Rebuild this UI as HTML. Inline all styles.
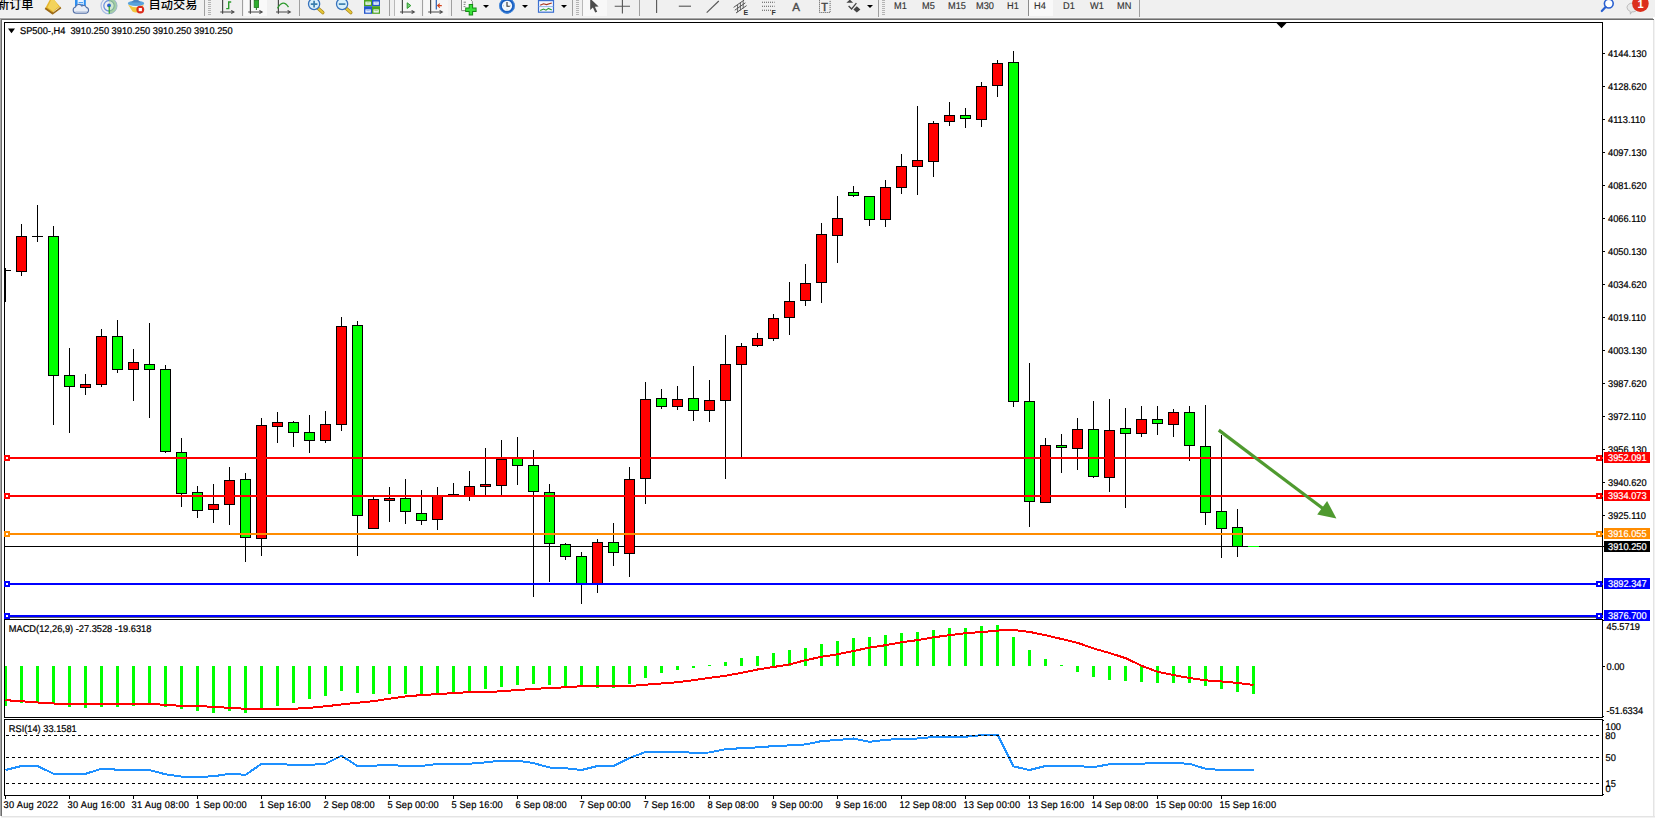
<!DOCTYPE html>
<html lang="zh"><head><meta charset="utf-8"><title>SP500-,H4</title>
<style>
html,body{margin:0;padding:0;background:#fff}
body{width:1655px;height:818px;position:relative;overflow:hidden;font-family:"Liberation Sans", "Noto Sans CJK SC", sans-serif}
#tb{position:absolute;left:0;top:0;width:1655px;height:17px;background:#f0f0f0;overflow:hidden}
.ln{position:absolute;left:0;width:1653px;height:1px}
.t{position:absolute;white-space:nowrap;color:#333;font-size:9.8px;line-height:10px;top:2.4px;transform:scaleX(.94);transform-origin:0 0;text-rendering:geometricPrecision;-webkit-text-stroke:.15px #333}
.cj{position:absolute;white-space:nowrap;color:#000;font-size:12.2px;line-height:12px;top:-1.3px;font-weight:500}
.sep{position:absolute;top:0;width:1px;height:16px;background:#a0a0a0}
.grip{position:absolute;top:0;width:3px;height:15px;background:repeating-linear-gradient(#b4b4b4 0 1px,#f0f0f0 1px 2px)}
.dd{position:absolute;top:5px;width:0;height:0;border-left:3px solid transparent;border-right:3px solid transparent;border-top:3px solid #000}
</style></head><body>
<div id="tb">
<div class="cj" style="left:-3px">新订单</div>
<div class="cj" style="left:148.6px">自动交易</div>
<div style="position:absolute;left:244px;top:0;width:23px;height:16px;background:#f9f9f9"></div>
<div style="position:absolute;left:395px;top:0;width:25px;height:16px;background:#f6f6f6"></div>
<div style="position:absolute;left:424px;top:0;width:24px;height:16px;background:#f6f6f6"></div>
<div style="position:absolute;left:583px;top:0;width:24px;height:16px;background:#f8f8f8"></div>
<div style="position:absolute;left:1029px;top:0;width:24px;height:16px;background:#f9f9f9"></div>
<div class="sep" style="left:204px"></div><div class="grip" style="left:208px"></div>
<div class="sep" style="left:242px"></div>
<div class="sep" style="left:299px"></div>
<div class="sep" style="left:389px"></div><div class="sep" style="left:394px;background:#b8b8b8"></div>
<div class="sep" style="left:422px"></div>
<div class="sep" style="left:451px"></div>
<div class="sep" style="left:572px"></div><div class="grip" style="left:576px"></div>
<div class="sep" style="left:582px;background:#b8b8b8"></div>
<div class="sep" style="left:639px"></div>
<div class="sep" style="left:878px;height:17px"></div><div class="grip" style="left:882px"></div>
<div class="sep" style="left:1028px;background:#8c8c8c"></div>
<div class="sep" style="left:1139px;height:17px"></div>
<div class="dd" style="left:483px"></div><div class="dd" style="left:522px"></div><div class="dd" style="left:561px"></div><div class="dd" style="left:867px"></div>
<span class="t" style="left:894px">M1</span><span class="t" style="left:921.8px">M5</span><span class="t" style="left:947.8px">M15</span><span class="t" style="left:975.7px">M30</span><span class="t" style="left:1006.6px">H1</span><span class="t" style="left:1034px">H4</span><span class="t" style="left:1062.5px">D1</span><span class="t" style="left:1090.2px">W1</span><span class="t" style="left:1116.8px">MN</span>
<svg width="1655" height="17" viewBox="0 0 1655 17" style="position:absolute;left:0;top:0" font-family='"Liberation Sans", sans-serif'>
<!-- book -->
<path d="M50.2 -1L45.2 8.2L52.6 13.6L60.8 7.5L53.4 -1Z" fill="#e6b52c"/><path d="M51.5 -1L47.6 7.6L53 11.2L58.6 6.6L54 -1Z" fill="#f3d35c"/><path d="M45.2 8.2L52.6 13.6L60.8 7.5" fill="none" stroke="#9c6a17" stroke-width="1.9" stroke-linejoin="round"/><path d="M53.2 12L59.6 7.2" stroke="#f5ecd0" stroke-width=".8"/>
<!-- doc + cloud -->
<rect x="75" y="-2" width="10.8" height="9.4" fill="#2c8ef0"/><path d="M77.6 -1H83.8V6H77.6Z" fill="#e9f3ff"/><path d="M78.6 2.6H83M78.6 4.4H83" stroke="#2c8ef0" stroke-width=".9"/>
<path d="M76.2 13.1a3.1 3.1 0 0 1 -0.7 -6.1a3.4 3.4 0 0 1 6.2 -1a3 3 0 0 1 4.6 1.4a2.9 2.9 0 0 1 -0.2 5.7Z" fill="#e9eef7" stroke="#5672a8" stroke-width="1.1"/><path d="M75.4 11.8H87" stroke="#c3cfe4" stroke-width="1.4"/>
<!-- signal -->
<path d="M109 5.8L109 -2.2A8 8 0 0 1 109 13.8Z" fill="#8cc48c" opacity=".75"/><path d="M109 5.8L109 0.6A5.2 5.2 0 0 1 109 11Z" fill="#d9ecd9" opacity=".8"/>
<g fill="none"><path d="M109 -2.2A8 8 0 0 0 109 13.8" stroke="#a9bde6" stroke-width="1.2"/><path d="M109 0.6A5.2 5.2 0 0 0 109 11" stroke="#6d92dc" stroke-width="1.3"/><path d="M109 -2.2A8 8 0 0 1 109 13.8" stroke="#9ab6c8" stroke-width="1"/><path d="M109 0.6A5.2 5.2 0 0 1 109 11" stroke="#7fae9a" stroke-width="1.1"/></g>
<circle cx="109" cy="5.4" r="1.9" fill="#2a5fd0"/><path d="M109.2 6V13.8" stroke="#22a022" stroke-width="1.1"/>
<!-- hat + stop -->
<path d="M128 4.5Q136 10 144 4.5L139.5 11.5Q136 13.5 132.5 11.5Z" fill="#f0c63c"/><ellipse cx="136" cy="3.4" rx="8.2" ry="2.6" fill="#5aa3dc"/><path d="M131.2 2.4Q136 -3.5 140.8 2.4Z" fill="#4a86c4"/>
<circle cx="140.3" cy="9.6" r="3.9" fill="#dc2a1a"/><rect x="138.7" y="8" width="3.2" height="3.2" fill="#fff"/>
<!-- bar chart icon -->
<g stroke="#4a4a4a" stroke-width="1.2" fill="none"><path d="M222.6 0V13.8M220.3 12H233.6"/><path d="M231.2 10.5L233.8 12L231.2 13.5"/></g>
<path d="M226.2 8.6H228.7V2H231.2" stroke="#2c9a2c" stroke-width="1.4" fill="none"/>
<!-- candle icon -->
<g stroke="#4a4a4a" stroke-width="1.2" fill="none"><path d="M250.4 0V13.8M248.2 12H261.8"/><path d="M259.4 10.5L262 12L259.4 13.5"/></g>
<rect x="254.2" y="0.5" width="4.4" height="7" fill="#2fae2f" stroke="#1f7a1f" stroke-width=".8"/><path d="M256.4 7.5V10" stroke="#1f7a1f" stroke-width="1"/>
<!-- line chart icon -->
<g stroke="#4a4a4a" stroke-width="1.2" fill="none"><path d="M278.4 0V13.8M276 12H290"/><path d="M287.6 10.5L290.2 12L287.6 13.5"/></g>
<path d="M277.5 8.4Q283 -1.5 288.5 7.2" stroke="#2c9a2c" stroke-width="1.3" fill="none"/>
<!-- zoom in -->
<path d="M318 8.2L322.8 12.6" stroke="#a8851c" stroke-width="3.4" stroke-linecap="round"/><path d="M318 8.2L322.8 12.6" stroke="#e6c838" stroke-width="2" stroke-linecap="round"/><circle cx="314.1" cy="4" r="5.6" fill="#d9f0fb" stroke="#3672bc" stroke-width="1.3"/><path d="M310.8 4.1H317.4M314.1 0.8V7.4" stroke="#3b7fae" stroke-width="1.7"/>
<!-- zoom out -->
<path d="M346 8.2L350.8 12.6" stroke="#a8851c" stroke-width="3.4" stroke-linecap="round"/><path d="M346 8.2L350.8 12.6" stroke="#e6c838" stroke-width="2" stroke-linecap="round"/><circle cx="342.1" cy="4" r="5.6" fill="#d9f0fb" stroke="#3672bc" stroke-width="1.3"/><path d="M338.8 4.1H345.4" stroke="#3b7fae" stroke-width="1.7"/>
<!-- grid -->
<rect x="364" y="-1" width="8" height="7.2" fill="#4aa31e"/><rect x="372" y="-1" width="8" height="7.2" fill="#2456cc"/><rect x="364" y="6.2" width="8" height="7.6" fill="#2456cc"/><rect x="372" y="6.2" width="8" height="7.6" fill="#4aa31e"/>
<g fill="#f2f7ff"><rect x="365.4" y="1.6" width="5.4" height="3.2"/><rect x="373.4" y="1.6" width="5.4" height="3.2"/><rect x="365.4" y="9.4" width="5.4" height="3.2"/><rect x="373.4" y="9.4" width="5.4" height="3.2"/></g>
<path d="M366.4 2.9H369.8" stroke="#9ad07a" stroke-width="1"/><path d="M374.4 2.9H377.8" stroke="#8fb0ee" stroke-width="1"/><path d="M366.4 10.7H369.8" stroke="#8fb0ee" stroke-width="1"/><path d="M374.4 10.7H377.8" stroke="#9ad07a" stroke-width="1"/>
<!-- autoscroll -->
<g stroke="#4a4a4a" stroke-width="1.2" fill="none"><path d="M402.4 0V13.8M400 12H414"/><path d="M411.6 10.5L414.2 12L411.6 13.5"/></g>
<path d="M407.2 2.8L410.8 5.6L407.2 8.4Z" fill="#7fd27f" stroke="#2c9a2c" stroke-width="1"/>
<!-- chart shift -->
<g stroke="#4a4a4a" stroke-width="1.2" fill="none"><path d="M430.6 0V13.8M428.2 12H442"/><path d="M439.6 10.5L442.2 12L439.6 13.5"/></g>
<path d="M436.3 0V9.6" stroke="#2a5fb4" stroke-width="1.2"/><path d="M441.8 5.6H438M439.8 3.6L437.6 5.6L439.8 7.6" stroke="#d2431c" stroke-width="1.1" fill="none"/>
<!-- new chart -->
<path d="M461.5 -1H470L472.4 1.4V10.6H461.5Z" fill="#f8f8f8" stroke="#8c8c8c" stroke-width="1"/><path d="M463.6 2.2H466M463.6 4.4H465.4M463.6 6.6H465.4" stroke="#666" stroke-width=".8"/><path d="M470.9 4V15.4M465.2 9.7H476.6" stroke="#168816" stroke-width="4.4"/><path d="M470.9 4.9V14.5M466.1 9.7H475.7" stroke="#3be03b" stroke-width="2.5"/>
<!-- clock -->
<circle cx="507" cy="5.8" r="6.5" fill="#f4f8fd" stroke="#1a5fc0" stroke-width="2.7"/><circle cx="507" cy="5.8" r="7.4" fill="none" stroke="#4f95e6" stroke-width=".8"/><path d="M507 2V6.2H509.8" stroke="#333" stroke-width="1.1" fill="none"/><path d="M507 9.6V10.4M503 5.8H503.8M510.4 5.8H511" stroke="#8aa" stroke-width=".8"/>
<!-- template -->
<rect x="538.5" y="-1" width="15" height="13.2" fill="#f4f8ff" stroke="#3a6fd0" stroke-width="1.2"/><rect x="538.5" y="-1" width="15" height="2.2" fill="#3a6fd0"/><path d="M538.5 6.6H553.5" stroke="#7ea4e4" stroke-width=".8"/><path d="M540.2 5.2L543.5 3.8L546.5 4.6L551.8 3" stroke="#a8341c" stroke-width="1.1" fill="none"/><path d="M540.2 10.6L543.5 9L546 10.2L548.5 8.4L551.8 10" stroke="#2c9a2c" stroke-width="1.1" fill="none"/>
<!-- cursor -->
<path d="M590.2 -1.5L590.2 10L592.9 7.6L595.2 12.6L597.2 11.7L594.9 6.8L598.6 6.6Z" fill="#4c4c4c"/>
<!-- crosshair -->
<path d="M614.7 6.2H630M622.4 -1V13.6" stroke="#555" stroke-width="1.1"/>
<!-- vline, hline, trend -->
<path d="M656.6 -1V13" stroke="#555" stroke-width="1.1"/><path d="M678.8 6.2H691" stroke="#555" stroke-width="1.1"/><path d="M706.7 12.7L718.8 1" stroke="#555" stroke-width="1.1"/>
<!-- channel -->
<path d="M733.6 7.4L744.2 0M734.8 10.2L745.4 2.8M736 13L746.6 5.6" stroke="#555" stroke-width="1"/><path d="M737.6 5L737.6 12.2M740.4 3L740.4 10.4M743.2 1.2L743.2 8.4" stroke="#555" stroke-width=".9"/>
<text x="743.4" y="15" font-size="7" font-weight="bold" fill="#333">E</text>
<!-- fib -->
<path d="M762 2.2H774.6M762 6.2H774.6M762 10.2H771" stroke="#555" stroke-width="1.1" stroke-dasharray="1 1"/>
<text x="771.4" y="15" font-size="7" font-weight="bold" fill="#333">F</text>
<!-- A -->
<text x="792.2" y="10.8" font-size="11.6" fill="#4c4c4c" stroke="#4c4c4c" stroke-width=".35">A</text>
<!-- T box -->
<rect x="819.5" y="-0.5" width="10.6" height="13" fill="none" stroke="#555" stroke-width="1" stroke-dasharray="1 1"/><text x="821.3" y="10.8" font-size="11" fill="#444" stroke="#444" stroke-width=".45">T</text>
<!-- arrows icon -->
<path d="M846.4 2.8L849.8 -0.4L853.2 2.8Z" fill="#444"/><path d="M848.6 6L851.6 9L856.4 3.2" stroke="#444" stroke-width="1.3" fill="none"/><path d="M853.4 9.4L856.8 6.2L860.4 9.4L856.8 12.6Z" fill="#444"/>
<!-- magnifier -->
<circle cx="1608.8" cy="3.6" r="4.4" fill="#fff" stroke="#2a60d0" stroke-width="1.6"/><path d="M1605.6 7L1601.8 11" stroke="#2a60d0" stroke-width="2.2" stroke-linecap="round"/>
<!-- bubble + badge -->
<path d="M1627 7.5a5.5 4.5 0 0 1 11 0a5.5 4.5 0 0 1 -6.4 4.4L1630.4 14.2L1630.2 11.4A5.5 4.5 0 0 1 1627 7.5Z" fill="#e9e9e9" stroke="#b5b5b5" stroke-width=".9"/>
<circle cx="1640.4" cy="3.6" r="8.3" fill="#dc2f1c"/><text x="1637.4" y="7.6" font-size="11" font-weight="bold" fill="#fff">1</text>
</svg>

</div>
<div class="ln" style="top:17px;background:#f4f4f4"></div>
<div class="ln" style="top:18px;background:#a6a6a6"></div>
<div class="ln" style="top:19px;left:1px;background:#6c6c6c"></div>
<div style="position:absolute;left:0;top:18px;width:1px;height:798px;background:#a6a6a6"></div>
<div style="position:absolute;left:1px;top:19px;width:1px;height:797px;background:#6c6c6c"></div>
<div style="position:absolute;left:1653px;top:20px;width:2px;height:798px;background:linear-gradient(90deg,#e4e4e4 0 1px,#f2f2f2 1px 2px)"></div>
<div style="position:absolute;left:1px;top:816px;width:1654px;height:2px;background:linear-gradient(#e4e4e4 0 1px,#f2f2f2 1px 2px)"></div>
<svg width="1655" height="818" viewBox="0 0 1655 818" style="position:absolute;left:0;top:0" font-family='"Liberation Sans", sans-serif' font-size="9.8" text-rendering="geometricPrecision">
<g shape-rendering="crispEdges">
<path d="M4 22.5H1603M4.5 22V618M1602.5 22V618M4.5 619V718M1602.5 619V718M4.5 719V796M1602.5 719V796M4 619.5H1603M4 717.5H1603M4 719.5H1603M4 795.5H1603M1603 716.5H1604M1603 720.5H1604M1603 620.5H1604M1603 794.5H1604" stroke="#000" stroke-width="1" fill="none"/>
<rect x="4" y="617" width="1599" height="1" fill="#000" opacity="0.62"/>
</g>
<path d="M1276.5 23H1286.5L1281.5 28.3Z" fill="#000"/>
<g shape-rendering="crispEdges">
<path d="M1603 53.5H1605M1603 86.5H1605M1603 119.5H1605M1603 152.5H1605M1603 185.5H1605M1603 218.5H1605M1603 251.5H1605M1603 284.5H1605M1603 317.5H1605M1603 350.5H1605M1603 383.5H1605M1603 416.5H1605M1603 449.5H1605M1603 482.5H1605M1603 515.5H1605M1603 666.5H1605" stroke="#000" stroke-width="1"/>
<path d="M5.5 796V799M69.5 796V799M133.5 796V799M197.5 796V799M261.5 796V799M325.5 796V799M389.5 796V799M453.5 796V799M517.5 796V799M581.5 796V799M645.5 796V799M709.5 796V799M773.5 796V799M837.5 796V799M901.5 796V799M965.5 796V799M1029.5 796V799M1093.5 796V799M1157.5 796V799M1221.5 796V799" stroke="#000" stroke-width="1"/>
</g>
<g shape-rendering="crispEdges">
<rect x="5" y="546" width="1597" height="1" fill="#000"/>
<path d="M21.5 224V276M37.5 205V242M53.5 226V425M69.5 348V433M85.5 374V395M101.5 329V387M117.5 320V373M133.5 349V401M149.5 323V418M165.5 365V453M181.5 438V507M197.5 486V518M213.5 484V523M229.5 467V525M245.5 473V562M261.5 418V556M277.5 412V443M293.5 421V447M309.5 415V453M325.5 411V443M341.5 317V431M357.5 321V556M373.5 496V528M389.5 487V522M405.5 479V524M421.5 490V525M437.5 487V530M453.5 483V496M469.5 471V501M485.5 448V495M501.5 440V495M517.5 437V485M533.5 450V597M549.5 484V582M565.5 543V560M581.5 552V604M597.5 539V593M613.5 523V566M629.5 467V577M645.5 382V504M661.5 389V409M677.5 386V410M693.5 366V421M709.5 380V422M725.5 335V479M741.5 343V457M757.5 333V347M773.5 314V341M789.5 282V335M805.5 264V306M821.5 223V303M837.5 196V263M853.5 186V197M869.5 196V226M885.5 180V227M901.5 154V194M917.5 106V195M933.5 121V177M949.5 102V126M965.5 108V128M981.5 82V127M997.5 60V97M1013.5 51V407M1029.5 363V527M1045.5 438V502M1061.5 434V473M1077.5 418V470M1093.5 401V478M1109.5 399V492M1125.5 408V508M1141.5 406V437M1157.5 406V435M1173.5 409V437M1189.5 406V461M1205.5 405V525M1221.5 435V558M1237.5 509V557M5.5 268V302" stroke="#000" stroke-width="1" fill="none"/>
<path d="M5 270.5H11" stroke="#000" stroke-width="1"/>
<g fill="#ff0000" stroke="#000" stroke-width="1"><rect x="16.5" y="236.5" width="10" height="35"/><rect x="80.5" y="384.5" width="10" height="3"/><rect x="96.5" y="336.5" width="10" height="48"/><rect x="128.5" y="362.5" width="10" height="7"/><rect x="208.5" y="504.5" width="10" height="5"/><rect x="224.5" y="480.5" width="10" height="24"/><rect x="256.5" y="425.5" width="10" height="113"/><rect x="272.5" y="422.5" width="10" height="4"/><rect x="320.5" y="424.5" width="10" height="16"/><rect x="336.5" y="326.5" width="10" height="98"/><rect x="368.5" y="499.5" width="10" height="29"/><rect x="384.5" y="498.5" width="10" height="2"/><rect x="432.5" y="496.5" width="10" height="23"/><rect x="464.5" y="486.5" width="10" height="9"/><rect x="480.5" y="484.5" width="10" height="2"/><rect x="496.5" y="459.5" width="10" height="26"/><rect x="592.5" y="542.5" width="10" height="41"/><rect x="624.5" y="479.5" width="10" height="74"/><rect x="640.5" y="399.5" width="10" height="79"/><rect x="672.5" y="399.5" width="10" height="7"/><rect x="704.5" y="400.5" width="10" height="10"/><rect x="720.5" y="364.5" width="10" height="36"/><rect x="736.5" y="346.5" width="10" height="18"/><rect x="752.5" y="338.5" width="10" height="7"/><rect x="768.5" y="318.5" width="10" height="20"/><rect x="784.5" y="301.5" width="10" height="16"/><rect x="800.5" y="283.5" width="10" height="17"/><rect x="816.5" y="234.5" width="10" height="48"/><rect x="832.5" y="218.5" width="10" height="17"/><rect x="880.5" y="187.5" width="10" height="32"/><rect x="896.5" y="166.5" width="10" height="21"/><rect x="912.5" y="160.5" width="10" height="6"/><rect x="928.5" y="123.5" width="10" height="38"/><rect x="944.5" y="115.5" width="10" height="6"/><rect x="976.5" y="86.5" width="10" height="33"/><rect x="992.5" y="63.5" width="10" height="22"/><rect x="1040.5" y="445.5" width="10" height="57"/><rect x="1072.5" y="429.5" width="10" height="19"/><rect x="1104.5" y="430.5" width="10" height="47"/><rect x="1136.5" y="419.5" width="10" height="14"/><rect x="1168.5" y="412.5" width="10" height="12"/></g>
<g fill="#00ff00" stroke="#000" stroke-width="1"><rect x="48.5" y="236.5" width="10" height="139"/><rect x="64.5" y="375.5" width="10" height="11"/><rect x="112.5" y="336.5" width="10" height="33"/><rect x="144.5" y="364.5" width="10" height="5"/><rect x="160.5" y="369.5" width="10" height="82"/><rect x="176.5" y="452.5" width="10" height="41"/><rect x="192.5" y="492.5" width="10" height="18"/><rect x="240.5" y="479.5" width="10" height="58"/><rect x="288.5" y="422.5" width="10" height="10"/><rect x="304.5" y="432.5" width="10" height="8"/><rect x="352.5" y="325.5" width="10" height="190"/><rect x="400.5" y="498.5" width="10" height="13"/><rect x="416.5" y="513.5" width="10" height="7"/><rect x="512.5" y="458.5" width="10" height="7"/><rect x="528.5" y="465.5" width="10" height="26"/><rect x="544.5" y="492.5" width="10" height="51"/><rect x="560.5" y="544.5" width="10" height="12"/><rect x="576.5" y="556.5" width="10" height="27"/><rect x="608.5" y="542.5" width="10" height="10"/><rect x="656.5" y="398.5" width="10" height="8"/><rect x="688.5" y="398.5" width="10" height="12"/><rect x="848.5" y="192.5" width="10" height="3"/><rect x="864.5" y="196.5" width="10" height="23"/><rect x="960.5" y="115.5" width="10" height="3"/><rect x="1008.5" y="62.5" width="10" height="339"/><rect x="1024.5" y="401.5" width="10" height="100"/><rect x="1056.5" y="445.5" width="10" height="2"/><rect x="1088.5" y="429.5" width="10" height="47"/><rect x="1120.5" y="428.5" width="10" height="5"/><rect x="1152.5" y="419.5" width="10" height="4"/><rect x="1184.5" y="412.5" width="10" height="33"/><rect x="1200.5" y="446.5" width="10" height="66"/><rect x="1216.5" y="511.5" width="10" height="17"/><rect x="1232.5" y="527.5" width="10" height="19"/></g>
<path d="M32 236.5H43M448 494.5H459" stroke="#000" stroke-width="1"/>
</g>
<text transform="translate(1608 56.9) scale(0.945 1)" fill="#000" stroke="#000" stroke-width="0.22">4144.130</text>
<text transform="translate(1608 89.9) scale(0.945 1)" fill="#000" stroke="#000" stroke-width="0.22">4128.620</text>
<text transform="translate(1608 122.9) scale(0.945 1)" fill="#000" stroke="#000" stroke-width="0.22">4113.110</text>
<text transform="translate(1608 155.9) scale(0.945 1)" fill="#000" stroke="#000" stroke-width="0.22">4097.130</text>
<text transform="translate(1608 188.9) scale(0.945 1)" fill="#000" stroke="#000" stroke-width="0.22">4081.620</text>
<text transform="translate(1608 221.9) scale(0.945 1)" fill="#000" stroke="#000" stroke-width="0.22">4066.110</text>
<text transform="translate(1608 254.9) scale(0.945 1)" fill="#000" stroke="#000" stroke-width="0.22">4050.130</text>
<text transform="translate(1608 287.9) scale(0.945 1)" fill="#000" stroke="#000" stroke-width="0.22">4034.620</text>
<text transform="translate(1608 320.9) scale(0.945 1)" fill="#000" stroke="#000" stroke-width="0.22">4019.110</text>
<text transform="translate(1608 353.9) scale(0.945 1)" fill="#000" stroke="#000" stroke-width="0.22">4003.130</text>
<text transform="translate(1608 386.9) scale(0.945 1)" fill="#000" stroke="#000" stroke-width="0.22">3987.620</text>
<text transform="translate(1608 419.9) scale(0.945 1)" fill="#000" stroke="#000" stroke-width="0.22">3972.110</text>
<text transform="translate(1608 452.9) scale(0.945 1)" fill="#000" stroke="#000" stroke-width="0.22">3956.130</text>
<text transform="translate(1608 485.9) scale(0.945 1)" fill="#000" stroke="#000" stroke-width="0.22">3940.620</text>
<text transform="translate(1608 518.9) scale(0.945 1)" fill="#000" stroke="#000" stroke-width="0.22">3925.110</text>
<g shape-rendering="crispEdges">
<rect x="5" y="457" width="1598" height="2" fill="#ff0000"/><rect x="4" y="455" width="6" height="6" fill="#ff0000"/><rect x="6" y="457" width="2" height="2" fill="#fff"/><rect x="1596" y="455" width="6" height="6" fill="#ff0000"/><rect x="1598" y="457" width="2" height="2" fill="#fff"/><rect x="1604" y="452.0" width="46" height="11" fill="#ff0000"/><text transform="translate(1608 460.9) scale(0.945 1)" fill="#fff" stroke="#fff" stroke-width="0.22">3952.091</text>
<rect x="5" y="495" width="1598" height="2" fill="#ff0000"/><rect x="4" y="493" width="6" height="6" fill="#ff0000"/><rect x="6" y="495" width="2" height="2" fill="#fff"/><rect x="1596" y="493" width="6" height="6" fill="#ff0000"/><rect x="1598" y="495" width="2" height="2" fill="#fff"/><rect x="1604" y="490.0" width="46" height="11" fill="#ff0000"/><text transform="translate(1608 498.9) scale(0.945 1)" fill="#fff" stroke="#fff" stroke-width="0.22">3934.073</text>
<rect x="5" y="533" width="1598" height="2" fill="#ff8c00"/><rect x="4" y="531" width="6" height="6" fill="#ff8c00"/><rect x="6" y="533" width="2" height="2" fill="#fff"/><rect x="1596" y="531" width="6" height="6" fill="#ff8c00"/><rect x="1598" y="533" width="2" height="2" fill="#fff"/><rect x="1604" y="528.0" width="46" height="11" fill="#ff8c00"/><text transform="translate(1608 536.9) scale(0.945 1)" fill="#fff" stroke="#fff" stroke-width="0.22">3916.055</text>
<rect x="5" y="583" width="1598" height="2" fill="#0000ff"/><rect x="4" y="581" width="6" height="6" fill="#0000ff"/><rect x="6" y="583" width="2" height="2" fill="#fff"/><rect x="1596" y="581" width="6" height="6" fill="#0000ff"/><rect x="1598" y="583" width="2" height="2" fill="#fff"/><rect x="1604" y="578.0" width="46" height="11" fill="#0000ff"/><text transform="translate(1608 586.9) scale(0.945 1)" fill="#fff" stroke="#fff" stroke-width="0.22">3892.347</text>
<rect x="5" y="615" width="1598" height="2" fill="#0000ff"/><rect x="4" y="613" width="6" height="6" fill="#0000ff"/><rect x="6" y="615" width="2" height="2" fill="#fff"/><rect x="1596" y="613" width="6" height="6" fill="#0000ff"/><rect x="1598" y="615" width="2" height="2" fill="#fff"/><rect x="1604" y="610.0" width="46" height="11" fill="#0000ff"/><text transform="translate(1608 618.9) scale(0.945 1)" fill="#fff" stroke="#fff" stroke-width="0.22">3876.700</text>
<rect x="1604" y="541" width="46" height="11" fill="#000"/><rect x="1603" y="546" width="2" height="1" fill="#000"/>
<rect x="1248" y="546" width="11" height="1" fill="#00ff00"/>
</g>
<text transform="translate(1608 549.9) scale(0.945 1)" fill="#fff" stroke="#fff" stroke-width="0.22">3910.250</text>
<g fill="#4f9a2f" stroke="none"><path d="M1218.8 430.1L1322.6 508.3" stroke="#4f9a2f" stroke-width="3.2" fill="none"/><path d="M1336.4 518.4L1327.1 500.9L1317.2 514.6Z"/></g>
<g shape-rendering="crispEdges">
<g fill="#00ff00"><rect x="5" y="666.0" width="2" height="39.5"/><rect x="20" y="666.0" width="3" height="37.0"/><rect x="36" y="666.0" width="3" height="35.7"/><rect x="52" y="666.0" width="3" height="37.8"/><rect x="68" y="666.0" width="3" height="40.5"/><rect x="84" y="666.0" width="3" height="41.8"/><rect x="100" y="666.0" width="3" height="40.5"/><rect x="116" y="666.0" width="3" height="40.5"/><rect x="132" y="666.0" width="3" height="39.5"/><rect x="148" y="666.0" width="3" height="39.0"/><rect x="164" y="666.0" width="3" height="40.8"/><rect x="180" y="666.0" width="3" height="42.8"/><rect x="196" y="666.0" width="3" height="45.4"/><rect x="212" y="666.0" width="3" height="46.6"/><rect x="228" y="666.0" width="3" height="45.4"/><rect x="244" y="666.0" width="3" height="46.6"/><rect x="260" y="666.0" width="3" height="42.8"/><rect x="276" y="666.0" width="3" height="39.8"/><rect x="292" y="666.0" width="3" height="36.5"/><rect x="308" y="666.0" width="3" height="33.4"/><rect x="324" y="666.0" width="3" height="30.4"/><rect x="340" y="666.0" width="3" height="24.6"/><rect x="356" y="666.0" width="3" height="26.6"/><rect x="372" y="666.0" width="3" height="27.6"/><rect x="388" y="666.0" width="3" height="27.6"/><rect x="404" y="666.0" width="3" height="27.6"/><rect x="420" y="666.0" width="3" height="28.4"/><rect x="436" y="666.0" width="3" height="26.6"/><rect x="452" y="666.0" width="3" height="25.8"/><rect x="468" y="666.0" width="3" height="24.8"/><rect x="484" y="666.0" width="3" height="22.5"/><rect x="500" y="666.0" width="3" height="20.5"/><rect x="516" y="666.0" width="3" height="18.5"/><rect x="532" y="666.0" width="3" height="17.5"/><rect x="548" y="666.0" width="3" height="18.5"/><rect x="564" y="666.0" width="3" height="20.5"/><rect x="580" y="666.0" width="3" height="21.0"/><rect x="596" y="666.0" width="3" height="21.5"/><rect x="612" y="666.0" width="3" height="21.5"/><rect x="628" y="666.0" width="3" height="18.0"/><rect x="644" y="666.0" width="3" height="12.4"/><rect x="660" y="666.0" width="3" height="7.3"/><rect x="676" y="666.0" width="3" height="4.3"/><rect x="692" y="666.0" width="3" height="1.8"/><rect x="708" y="665.2" width="3" height="0.8"/><rect x="724" y="662.1" width="3" height="3.9"/><rect x="740" y="658.1" width="3" height="7.9"/><rect x="756" y="656.0" width="3" height="10.0"/><rect x="772" y="653.0" width="3" height="13.0"/><rect x="788" y="650.0" width="3" height="16.0"/><rect x="804" y="647.9" width="3" height="18.1"/><rect x="820" y="644.1" width="3" height="21.9"/><rect x="836" y="641.1" width="3" height="24.9"/><rect x="852" y="638.0" width="3" height="28.0"/><rect x="868" y="637.0" width="3" height="29.0"/><rect x="884" y="635.0" width="3" height="31.0"/><rect x="900" y="632.9" width="3" height="33.1"/><rect x="916" y="631.9" width="3" height="34.1"/><rect x="932" y="630.2" width="3" height="35.8"/><rect x="948" y="628.1" width="3" height="37.9"/><rect x="964" y="628.1" width="3" height="37.9"/><rect x="980" y="626.1" width="3" height="39.9"/><rect x="996" y="624.8" width="3" height="41.2"/><rect x="1012" y="637.0" width="3" height="29.0"/><rect x="1028" y="650.0" width="3" height="16.0"/><rect x="1044" y="659.1" width="3" height="6.9"/><rect x="1060" y="665.4" width="3" height="0.8"/><rect x="1076" y="666.0" width="3" height="6.0"/><rect x="1092" y="666.0" width="3" height="10.9"/><rect x="1108" y="666.0" width="3" height="13.9"/><rect x="1124" y="666.0" width="3" height="14.9"/><rect x="1140" y="666.0" width="3" height="15.9"/><rect x="1156" y="666.0" width="3" height="16.9"/><rect x="1172" y="666.0" width="3" height="16.9"/><rect x="1188" y="666.0" width="3" height="16.8"/><rect x="1204" y="666.0" width="3" height="19.6"/><rect x="1220" y="666.0" width="3" height="22.6"/><rect x="1236" y="666.0" width="3" height="25.5"/><rect x="1252" y="666.0" width="3" height="27.8"/></g>
</g>
<polyline points="5.5,700.2 21.5,701.2 37.5,702.5 53.5,703.5 149.5,703.5 165.5,705.0 181.5,705.8 197.5,705.8 213.5,707.0 229.5,707.8 245.5,708.8 293.5,708.8 309.5,707.8 325.5,706.3 341.5,704.5 357.5,702.7 373.5,701.2 389.5,698.7 405.5,696.4 421.5,695.1 437.5,694.1 453.5,693.1 469.5,692.1 485.5,692.1 501.5,691.3 517.5,690.0 533.5,689.0 549.5,688.0 565.5,687.3 581.5,686.2 597.5,686.0 629.5,686.0 645.5,684.7 661.5,683.5 677.5,682.2 693.5,680.2 709.5,677.9 725.5,675.8 741.5,672.8 757.5,669.5 773.5,667.0 789.5,664.4 805.5,660.2 821.5,656.8 837.5,654.3 853.5,651.0 869.5,647.6 885.5,645.2 901.5,642.3 917.5,640.1 933.5,637.3 949.5,635.2 965.5,633.2 981.5,632.0 997.5,630.7 1005.5,629.9 1013.5,629.9 1029.5,631.9 1045.5,635.2 1061.5,639.0 1077.5,642.8 1093.5,648.4 1109.5,653.0 1125.5,658.1 1141.5,665.7 1157.5,671.8 1173.5,675.1 1189.5,678.0 1205.5,680.3 1221.5,681.5 1237.5,682.9 1253.5,684.9" fill="none" stroke="#ff0000" stroke-width="2" stroke-linejoin="round" shape-rendering="crispEdges"/>
<polyline points="5.5,770.0 21.5,766.0 37.5,766.0 53.5,773.8 69.5,773.8 85.5,773.8 101.5,768.7 117.5,769.7 133.5,769.7 149.5,770.0 165.5,774.3 181.5,776.6 197.5,776.9 213.5,776.3 229.5,773.8 245.5,774.8 261.5,763.9 277.5,763.9 293.5,764.9 309.5,764.9 325.5,763.7 341.5,755.8 357.5,766.0 373.5,765.7 389.5,764.9 405.5,766.0 421.5,766.0 437.5,763.9 453.5,763.9 469.5,763.7 485.5,762.4 501.5,760.6 517.5,760.6 533.5,763.1 549.5,767.5 565.5,768.2 581.5,770.0 597.5,766.0 613.5,766.0 629.5,758.0 645.5,752.0 661.5,751.7 677.5,752.0 693.5,752.7 709.5,752.5 725.5,749.2 741.5,748.2 757.5,747.4 773.5,746.1 789.5,745.4 805.5,744.4 821.5,741.1 837.5,740.0 853.5,738.5 869.5,741.8 885.5,739.8 901.5,739.0 917.5,738.5 933.5,737.0 949.5,736.8 965.5,736.8 981.5,735.2 997.5,734.7 1013.5,766.4 1029.5,770.0 1045.5,766.0 1061.5,766.0 1077.5,766.0 1093.5,767.2 1109.5,764.2 1125.5,763.9 1141.5,763.7 1157.5,762.9 1173.5,762.9 1189.5,763.8 1205.5,768.7 1221.5,770.0 1237.5,770.0 1253.5,770.0" fill="none" stroke="#1e90ff" stroke-width="2" stroke-linejoin="round" shape-rendering="crispEdges"/>
<g shape-rendering="crispEdges">
<path d="M6 735.5H1602" stroke="#000" stroke-width="1" stroke-dasharray="3 3"/>
<path d="M6 757.5H1602" stroke="#000" stroke-width="1" stroke-dasharray="3 3"/>
<path d="M6 783.5H1602" stroke="#000" stroke-width="1" stroke-dasharray="3 3"/>
</g>
<path d="M8 28.6H15L11.5 33.3Z" fill="#000"/>
<text transform="translate(20 33.8) scale(0.945 1)" fill="#000" stroke="#000" stroke-width="0.22">SP500-,H4&#160; 3910.250 3910.250 3910.250 3910.250</text>
<text transform="translate(8.8 631.8) scale(0.945 1)" fill="#000" stroke="#000" stroke-width="0.22">MACD(12,26,9) -27.3528 -19.6318</text>
<text transform="translate(8.8 731.9) scale(0.945 1)" fill="#000" stroke="#000" stroke-width="0.22">RSI(14) 33.1581</text>
<text transform="translate(1606.5 629.6) scale(0.945 1)" fill="#000" stroke="#000" stroke-width="0.22">45.5719</text>
<text transform="translate(1606.5 670.1) scale(0.945 1)" fill="#000" stroke="#000" stroke-width="0.22">0.00</text>
<text transform="translate(1606.5 714.3) scale(0.945 1)" fill="#000" stroke="#000" stroke-width="0.22">-51.6334</text>
<text transform="translate(1605.5 729.9) scale(0.945 1)" fill="#000" stroke="#000" stroke-width="0.22">100</text>
<text transform="translate(1605.3 738.9) scale(0.945 1)" fill="#000" stroke="#000" stroke-width="0.22">80</text>
<text transform="translate(1605.5 760.9) scale(0.945 1)" fill="#000" stroke="#000" stroke-width="0.22">50</text>
<text transform="translate(1605.5 786.7) scale(0.945 1)" fill="#000" stroke="#000" stroke-width="0.22">15</text>
<text transform="translate(1605.5 791.8) scale(0.945 1)" fill="#000" stroke="#000" stroke-width="0.22">0</text>
<text transform="translate(3.6 808.1) scale(0.945 1)" fill="#000" stroke="#000" stroke-width="0.22" letter-spacing="0.27">30 Aug 2022</text>
<text transform="translate(67.6 808.1) scale(0.945 1)" fill="#000" stroke="#000" stroke-width="0.22" letter-spacing="0.27">30 Aug 16:00</text>
<text transform="translate(131.6 808.1) scale(0.945 1)" fill="#000" stroke="#000" stroke-width="0.22" letter-spacing="0.27">31 Aug 08:00</text>
<text transform="translate(195.6 808.1) scale(0.945 1)" fill="#000" stroke="#000" stroke-width="0.22" letter-spacing="0.13">1 Sep 00:00</text>
<text transform="translate(259.6 808.1) scale(0.945 1)" fill="#000" stroke="#000" stroke-width="0.22" letter-spacing="0.13">1 Sep 16:00</text>
<text transform="translate(323.6 808.1) scale(0.945 1)" fill="#000" stroke="#000" stroke-width="0.22" letter-spacing="0.13">2 Sep 08:00</text>
<text transform="translate(387.6 808.1) scale(0.945 1)" fill="#000" stroke="#000" stroke-width="0.22" letter-spacing="0.13">5 Sep 00:00</text>
<text transform="translate(451.6 808.1) scale(0.945 1)" fill="#000" stroke="#000" stroke-width="0.22" letter-spacing="0.13">5 Sep 16:00</text>
<text transform="translate(515.6 808.1) scale(0.945 1)" fill="#000" stroke="#000" stroke-width="0.22" letter-spacing="0.13">6 Sep 08:00</text>
<text transform="translate(579.6 808.1) scale(0.945 1)" fill="#000" stroke="#000" stroke-width="0.22" letter-spacing="0.13">7 Sep 00:00</text>
<text transform="translate(643.6 808.1) scale(0.945 1)" fill="#000" stroke="#000" stroke-width="0.22" letter-spacing="0.13">7 Sep 16:00</text>
<text transform="translate(707.6 808.1) scale(0.945 1)" fill="#000" stroke="#000" stroke-width="0.22" letter-spacing="0.13">8 Sep 08:00</text>
<text transform="translate(771.6 808.1) scale(0.945 1)" fill="#000" stroke="#000" stroke-width="0.22" letter-spacing="0.13">9 Sep 00:00</text>
<text transform="translate(835.6 808.1) scale(0.945 1)" fill="#000" stroke="#000" stroke-width="0.22" letter-spacing="0.13">9 Sep 16:00</text>
<text transform="translate(899.6 808.1) scale(0.945 1)" fill="#000" stroke="#000" stroke-width="0.22" letter-spacing="0.13">12 Sep 08:00</text>
<text transform="translate(963.6 808.1) scale(0.945 1)" fill="#000" stroke="#000" stroke-width="0.22" letter-spacing="0.13">13 Sep 00:00</text>
<text transform="translate(1027.6 808.1) scale(0.945 1)" fill="#000" stroke="#000" stroke-width="0.22" letter-spacing="0.13">13 Sep 16:00</text>
<text transform="translate(1091.6 808.1) scale(0.945 1)" fill="#000" stroke="#000" stroke-width="0.22" letter-spacing="0.13">14 Sep 08:00</text>
<text transform="translate(1155.6 808.1) scale(0.945 1)" fill="#000" stroke="#000" stroke-width="0.22" letter-spacing="0.13">15 Sep 00:00</text>
<text transform="translate(1219.6 808.1) scale(0.945 1)" fill="#000" stroke="#000" stroke-width="0.22" letter-spacing="0.13">15 Sep 16:00</text>
</svg>
</body></html>
